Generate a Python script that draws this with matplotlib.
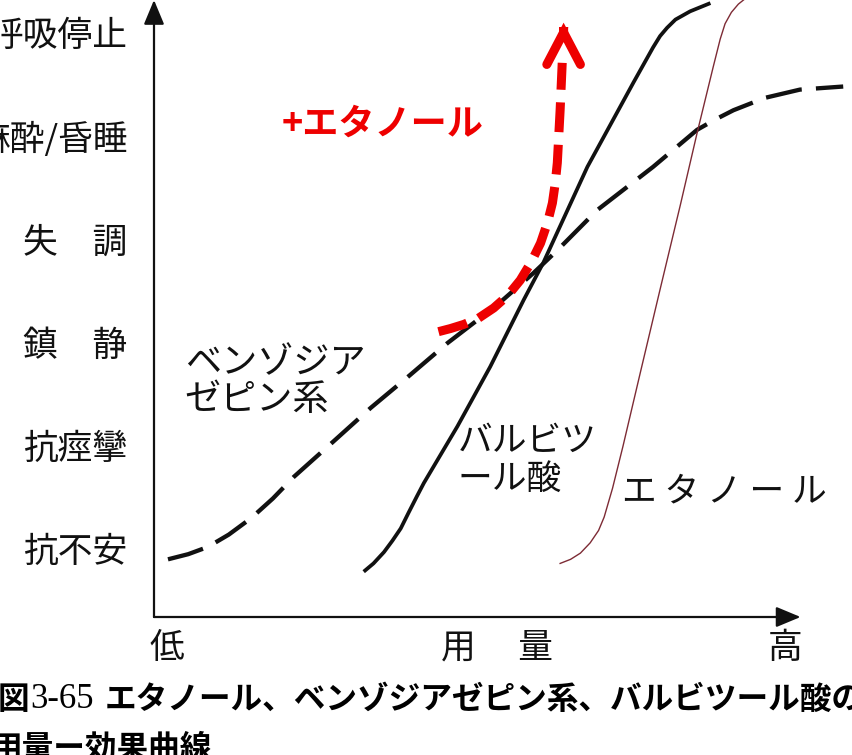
import matplotlib
matplotlib.use('Agg')
import matplotlib.pyplot as plt

plt.rcParams['font.family'] = ['Noto Sans CJK JP', 'DejaVu Sans']

# effect levels (bottom -> top)
effect_labels = ['抗不安', '抗痙攣', '鎮\u3000静', '失\u3000調', '麻酔/昏睡', '呼吸停止']
effect_levels = [0, 1, 2, 3, 4, 5]

# dose axis labels
dose_labels = ['低', '用\u3000 量', '高']
dose_label_pos = [0.19, 4.9, 9.03]

# benzodiazepines (dashed black)
benzo_dose = [0.20, 0.49, 0.77, 1.07, 1.39, 1.70, 2.00, 2.56, 3.10, 3.63,
              4.20, 4.91, 5.43, 5.77, 6.34, 7.14, 7.77, 8.03, 8.29, 8.74,
              9.24, 9.86]
benzo_effect = [-0.11, -0.06, 0.01, 0.13, 0.29, 0.48, 0.69, 1.03, 1.36, 1.66,
                1.99, 2.36, 2.67, 2.89, 3.28, 3.70, 4.06, 4.16, 4.25, 4.37,
                4.45, 4.48]

# barbiturates (solid black)
barb_dose = [3.00, 3.14, 3.29, 3.41, 3.53, 3.64, 3.76, 3.86, 4.34, 4.81,
             5.29, 5.57, 6.20, 6.86, 7.14, 7.24, 7.34, 7.46, 7.67, 7.96]
barb_effect = [-0.23, -0.15, -0.04, 0.07, 0.19, 0.34, 0.50, 0.63, 1.18, 1.76,
               2.41, 2.77, 3.70, 4.52, 4.86, 4.97, 5.05, 5.13, 5.21, 5.29]

# ethanol (thin dark red)
eth_dose = [5.81, 5.96, 6.10, 6.24, 6.36, 6.44, 6.50, 6.56, 6.71, 6.96,
            7.24, 7.53, 7.77, 8.00, 8.10, 8.17, 8.26, 8.36, 8.47]
eth_effect = [-0.15, -0.11, -0.05, 0.05, 0.17, 0.30, 0.44, 0.58, 0.99, 1.71,
              2.51, 3.33, 4.03, 4.67, 4.94, 5.09, 5.20, 5.28, 5.34]

# benzodiazepine + ethanol (red dashed, ends in arrow)
combo_dose = [4.07, 4.24, 4.43, 4.64, 4.86, 5.06, 5.24, 5.40, 5.53, 5.63,
              5.70, 5.74, 5.77, 5.81, 5.84]
combo_effect = [2.10, 2.13, 2.17, 2.23, 2.33, 2.45, 2.60, 2.78, 2.96, 3.16,
                3.35, 3.54, 3.74, 4.25, 4.71]
combo_tip = (5.86, 5.10)

fig = plt.figure(figsize=(8.53, 7.55), dpi=100)
ax = fig.add_axes([154 / 853, 138 / 755, 699 / 853, 617 / 755])
ax.set_xlim(0, 10)
ax.set_ylim(-0.67, 5.32)
for s in ax.spines.values():
    s.set_visible(False)

# axis arrows
ax.annotate('', xy=(0, 1.0), xytext=(0, 0), xycoords='axes fraction',
            arrowprops=dict(arrowstyle='-|>,head_length=0.6,head_width=0.25',
                            mutation_scale=25, lw=1.6, color='#111111',
                            shrinkA=0, shrinkB=0), annotation_clip=False)
ax.annotate('', xy=(0.925, 0), xytext=(0, 0), xycoords='axes fraction',
            arrowprops=dict(arrowstyle='-|>,head_length=0.6,head_width=0.25',
                            mutation_scale=25, lw=1.6, color='#111111',
                            shrinkA=0, shrinkB=0), annotation_clip=False)

ax.set_yticks(effect_levels, labels=effect_labels)
ax.set_xticks(dose_label_pos, labels=dose_labels)
ax.tick_params(axis='y', length=0, pad=19, labelsize=25, labelcolor='#111111')
ax.tick_params(axis='x', length=0, pad=10, labelsize=25, labelcolor='#111111')

# curves
ax.plot(benzo_dose, benzo_effect, color='#111111', lw=3.1, ls=(0, (8.5, 3.3)),
        dash_capstyle='butt', solid_joinstyle='round')
ax.plot(barb_dose, barb_effect, color='#111111', lw=2.7,
        solid_capstyle='butt', solid_joinstyle='round')
ax.plot(eth_dose, eth_effect, color='#7d2b35', lw=1.0)
ax.plot(combo_dose, combo_effect, color='#ee0000', lw=6.5, ls=(0, (3.3, 1.4)),
        dash_capstyle='butt')
ax.annotate('', xy=combo_tip, xytext=(combo_tip[0], combo_tip[1] - 0.05),
            arrowprops=dict(arrowstyle='->,head_length=1.05,head_width=0.55',
                            mutation_scale=22, lw=6.5, color='#ee0000',
                            capstyle='round', joinstyle='miter',
                            shrinkA=0, shrinkB=0))

# in-plot labels
ax.text(0.44, 1.79, 'ベンゾジア', fontsize=26, va='center', ha='left', color='#111111')
ax.text(0.44, 1.44, 'ゼピン系', fontsize=26, va='center', ha='left', color='#111111')
ax.text(4.34, 1.04, 'バルビツ', fontsize=25, va='center', ha='left', color='#111111')
ax.text(4.34, 0.67, 'ール酸', fontsize=25, va='center', ha='left', color='#111111')
ax.text(6.69, 0.54, 'エ タ ノ ー ル', fontsize=25, va='center', ha='left', color='#111111')
ax.text(1.83, 4.11, '+エタノール', fontsize=26, fontweight='bold', va='center',
        ha='left', color='#ee0000')

# caption
fig.text(-2 / 853, 1 - 700 / 755, '図', fontsize=22.8, fontweight='bold', va='center', ha='left')
fig.text(30 / 853, 1 - 700 / 755, '3-65', fontsize=25, family=['Liberation Serif'],
         va='center', ha='left')
fig.text(105 / 853, 1 - 700 / 755, 'エタノール、ベンゾジアゼピン系、バルビツール酸の',
         fontsize=22.8, fontweight='bold', va='center', ha='left')
fig.text(-10 / 853, 1 - 748 / 755, '用量ー効果曲線', fontsize=22.8, fontweight='bold',
         va='center', ha='left')

fig.savefig('out.png', dpi=100)
